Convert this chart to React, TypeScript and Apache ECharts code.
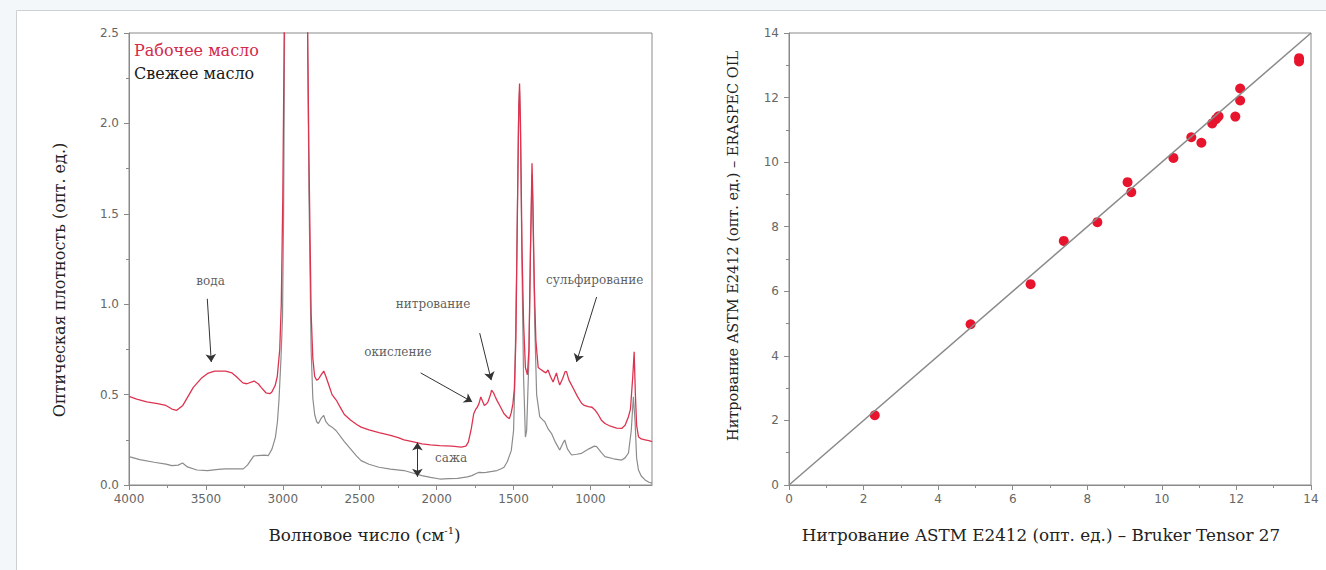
import React, { useEffect, useRef } from "react";
import * as echarts from "echarts";

// ---- Spectra (wavenumber cm-1, absorbance) ----
const workingW = [4000, 3950, 3884, 3814, 3760, 3721, 3690, 3650, 3582, 3530, 3489, 3443, 3373, 3330, 3303, 3260, 3234, 3187, 3160, 3141, 3110, 3085, 3071, 3050, 3036, 3020, 3010, 3000, 2990, 2960, 2920, 2880, 2850, 2840, 2830, 2816, 2805, 2793, 2780, 2769, 2750, 2734, 2720, 2700, 2680, 2653, 2620, 2600, 2560, 2520, 2491, 2440, 2375, 2300, 2250, 2212, 2142, 2096, 2040, 1980, 1900, 1840, 1810, 1794, 1775, 1759, 1745, 1736, 1725, 1713, 1700, 1690, 1675, 1666, 1650, 1643, 1630, 1620, 1608, 1590, 1562, 1540, 1527, 1515, 1504, 1495, 1485, 1475, 1466, 1461, 1455, 1445, 1435, 1423, 1410, 1400, 1390, 1380, 1375, 1365, 1355, 1340, 1325, 1308, 1290, 1276, 1260, 1243, 1230, 1221, 1210, 1200, 1180, 1165, 1156, 1140, 1112, 1085, 1058, 1040, 1014, 990, 971, 950, 930, 906, 870, 830, 797, 775, 753, 740, 725, 716, 708, 700, 688, 670, 645, 620, 600];
const workingA = [0.49, 0.475, 0.46, 0.45, 0.44, 0.42, 0.413, 0.44, 0.54, 0.59, 0.617, 0.63, 0.63, 0.62, 0.6, 0.565, 0.56, 0.575, 0.56, 0.54, 0.51, 0.505, 0.515, 0.55, 0.6, 0.75, 1.0, 1.6, 2.6, 3.0, 3.2, 3.0, 2.9, 2.6, 1.8, 0.95, 0.7, 0.6, 0.58, 0.585, 0.61, 0.63, 0.6, 0.55, 0.5, 0.47, 0.42, 0.39, 0.36, 0.335, 0.32, 0.305, 0.29, 0.275, 0.262, 0.25, 0.237, 0.228, 0.222, 0.218, 0.215, 0.21, 0.215, 0.237, 0.31, 0.394, 0.42, 0.43, 0.45, 0.487, 0.46, 0.44, 0.45, 0.46, 0.5, 0.524, 0.51, 0.49, 0.468, 0.44, 0.394, 0.375, 0.367, 0.4, 0.45, 0.53, 0.8, 1.5, 2.1, 2.22, 2.0, 1.3, 0.9, 0.65, 0.61, 0.75, 1.3, 1.78, 1.6, 1.1, 0.8, 0.65, 0.64, 0.63, 0.62, 0.636, 0.6, 0.57, 0.6, 0.62, 0.58, 0.553, 0.59, 0.627, 0.627, 0.58, 0.535, 0.49, 0.452, 0.44, 0.433, 0.43, 0.415, 0.39, 0.36, 0.34, 0.325, 0.315, 0.313, 0.33, 0.378, 0.42, 0.6, 0.737, 0.5, 0.33, 0.267, 0.255, 0.25, 0.245, 0.24];

const freshW = [4000, 3930, 3837, 3760, 3721, 3680, 3652, 3620, 3559, 3489, 3420, 3373, 3300, 3257, 3230, 3210, 3190, 3164, 3120, 3094, 3070, 3048, 3035, 3025, 3012, 3002, 2995, 2988, 2960, 2920, 2880, 2850, 2840, 2830, 2816, 2805, 2793, 2780, 2769, 2750, 2734, 2720, 2700, 2680, 2653, 2600, 2560, 2520, 2491, 2440, 2375, 2300, 2212, 2150, 2096, 2040, 1980, 1920, 1864, 1800, 1771, 1740, 1724, 1700, 1678, 1640, 1608, 1580, 1562, 1540, 1515, 1500, 1492, 1480, 1468, 1461, 1455, 1445, 1435, 1423, 1415, 1400, 1390, 1380, 1375, 1362, 1350, 1330, 1310, 1297, 1275, 1254, 1230, 1200, 1180, 1167, 1150, 1123, 1090, 1058, 1010, 975, 960, 930, 906, 850, 797, 775, 753, 735, 721, 710, 700, 688, 670, 645, 620, 600];
const freshA = [0.157, 0.14, 0.126, 0.115, 0.107, 0.11, 0.122, 0.1, 0.083, 0.08, 0.086, 0.089, 0.09, 0.089, 0.11, 0.135, 0.16, 0.163, 0.165, 0.163, 0.2, 0.265, 0.35, 0.47, 0.7, 0.93, 1.5, 2.6, 3.0, 3.2, 3.0, 2.9, 2.6, 1.6, 0.75, 0.48, 0.39, 0.35, 0.34, 0.37, 0.385, 0.35, 0.33, 0.32, 0.3, 0.24, 0.2, 0.16, 0.135, 0.115, 0.098, 0.088, 0.08, 0.065, 0.052, 0.042, 0.033, 0.035, 0.037, 0.045, 0.052, 0.065, 0.07, 0.068, 0.07, 0.075, 0.08, 0.09, 0.098, 0.13, 0.19, 0.3, 0.56, 1.2, 2.0, 2.18, 1.95, 1.2, 0.6, 0.265, 0.3, 0.7, 1.3, 1.72, 1.55, 0.875, 0.5, 0.378, 0.36, 0.35, 0.31, 0.286, 0.24, 0.194, 0.23, 0.249, 0.2, 0.166, 0.17, 0.175, 0.2, 0.215, 0.212, 0.18, 0.157, 0.145, 0.138, 0.15, 0.177, 0.3, 0.488, 0.35, 0.15, 0.083, 0.05, 0.028, 0.015, 0.01];

const seriesNames = ["Рабочее масло", "Свежее масло"];

// ---- Annotations (wavenumber, absorbance, text) ----
const annotTexts = ["вода", "нитрование", "окисление", "сульфирование", "сажа"];
const annotW = [3470, 2023, 2252, 973, 1906];
const annotA = [1.13, 1.0, 0.735, 1.134, 0.15];
// arrows: start (w,a) -> end (w,a)
const arrowFromW = [3491, 1720, 2104, 960, 2125];
const arrowFromA = [1.03, 0.84, 0.62, 1.04, 0.045];
const arrowToW = [3465, 1645, 1769, 1091, 2125];
const arrowToA = [0.68, 0.58, 0.46, 0.68, 0.235];
const doubleArrow = [false, false, false, false, true];

// ---- Wavenumber tick labels ----
const waveMajor = [1000, 1500, 2000, 2500, 3000, 3500, 4000];
const waveMinor = [750, 1250, 1750, 2250, 2750, 3250, 3750];

// ---- Nitration correlation ----
const brukerX = [2.3, 4.87, 6.48, 7.37, 8.27, 9.08, 9.18, 10.31, 10.79, 11.06, 11.35, 11.45, 11.52, 11.97, 12.1, 12.1, 13.68, 13.68];
const eraspecY = [2.16, 4.98, 6.22, 7.56, 8.14, 9.38, 9.07, 10.13, 10.77, 10.6, 11.2, 11.33, 11.42, 11.41, 12.28, 11.91, 13.22, 13.12];
const identityLine = [0, 14];

const AXIS = "#8a8a8a";
const LABEL = "#666";
const SERIF = "'DejaVu Serif', serif";
const SANS = "'DejaVu Sans', sans-serif";
const RED_LINE = "#dc3450";
const GREY_LINE = "#8c8c8c";
const DOT = "#e8132d";

export default function App() {
  const ref = useRef<HTMLDivElement>(null);

  useEffect(() => {
    if (!ref.current) return;
    const chart = echarts.init(ref.current, undefined, { renderer: "svg" });

    const zip = (a: number[], b: number[]) => a.map((v, i) => [v, b[i]]);

    const tickStyle = { lineStyle: { color: AXIS, width: 1 } };
    const labelStyle = { color: LABEL, fontFamily: SANS, fontSize: 12 };
    const nameStyle = { color: "#222", fontFamily: SERIF, fontSize: 16 };

    const option: any = {
      animation: false,
      backgroundColor: "#f3f7f9",
      graphic: [
        {
          type: "rect",
          z: -100,
          silent: true,
          shape: { x: 16.5, y: 10.5, width: 1330, height: 580 },
          style: { fill: "#ffffff", stroke: "#cdd1d4", lineWidth: 1 },
        },
      ],
      legend: {
        data: [
          { name: seriesNames[0], textStyle: { color: "#d4294b" } },
          { name: seriesNames[1], textStyle: { color: "#1a1a1a" } },
        ],
        orient: "vertical",
        left: 129,
        top: 41,
        padding: 0,
        icon: "none",
        itemWidth: 0,
        itemHeight: 18,
        itemGap: 6,
        selectedMode: false,
        textStyle: { fontFamily: SERIF, fontSize: 16 },
      },
      grid: [
        { left: 129, top: 33, width: 523, height: 452, show: true, borderColor: AXIS, borderWidth: 1, backgroundColor: "transparent", containLabel: false, outerBoundsMode: "none" },
        { left: 789, top: 33, width: 522, height: 452, show: true, borderColor: AXIS, borderWidth: 1, backgroundColor: "transparent", containLabel: false, outerBoundsMode: "none" },
      ],
      xAxis: [
        {
          type: "value",
          gridIndex: 0,
          min: 600,
          max: 4000,
          inverse: true,
          axisLine: { show: true, lineStyle: { color: AXIS } },
          axisTick: { show: true, length: 5, customValues: waveMajor, ...tickStyle },
          axisLabel: { customValues: waveMajor, margin: 8, formatter: (v: number) => String(v), ...labelStyle },
          splitLine: { show: false },
          name: "Волновое число (см{s|-1})",
          nameLocation: "middle",
          nameGap: 40,
          nameTextStyle: {
            ...nameStyle,
            fontSize: 16.8,
            padding: [0, 52, 0, 0],
            rich: { s: { fontFamily: SERIF, fontSize: 10, color: "#222", padding: [0, 0, 9, 0] } },
          },
        },
        {
          type: "value",
          gridIndex: 0,
          min: 600,
          max: 4000,
          inverse: true,
          position: "bottom",
          axisLine: { show: false },
          axisTick: { show: true, length: 3, customValues: waveMinor, ...tickStyle },
          axisLabel: { show: false },
          splitLine: { show: false },
        },
        {
          type: "value",
          gridIndex: 1,
          min: 0,
          max: 14,
          interval: 2,
          axisLine: { show: true, lineStyle: { color: AXIS } },
          axisTick: { show: true, length: 5, ...tickStyle },
          minorTick: { show: true, splitNumber: 2, length: 3, ...tickStyle },
          axisLabel: { margin: 8, ...labelStyle },
          splitLine: { show: false },
          minorSplitLine: { show: false },
          name: "Нитрование ASTM E2412 (опт. ед.) – Bruker Tensor 27",
          nameLocation: "middle",
          nameGap: 41,
          nameTextStyle: { ...nameStyle, fontSize: 16.8, padding: [0, 18, 0, 0] },
        },
      ],
      yAxis: [
        {
          type: "value",
          gridIndex: 0,
          min: 0,
          max: 2.5,
          interval: 0.5,
          axisLine: { show: true, lineStyle: { color: AXIS } },
          axisTick: { show: true, length: 5, ...tickStyle },
          minorTick: { show: true, splitNumber: 2, length: 3, ...tickStyle },
          axisLabel: { margin: 10, formatter: (v: number) => v.toFixed(1), ...labelStyle },
          splitLine: { show: false },
          minorSplitLine: { show: false },
          name: "Оптическая плотность (опт. ед.)",
          nameLocation: "middle",
          nameGap: 62,
          nameTextStyle: { ...nameStyle, padding: [0, 42, 0, 0] },
        },
        {
          type: "value",
          gridIndex: 1,
          min: 0,
          max: 14,
          interval: 2,
          axisLine: { show: true, lineStyle: { color: AXIS } },
          axisTick: { show: true, length: 5, ...tickStyle },
          minorTick: { show: true, splitNumber: 2, length: 3, ...tickStyle },
          axisLabel: { margin: 10, ...labelStyle },
          splitLine: { show: false },
          minorSplitLine: { show: false },
          name: "Нитрование ASTM E2412 (опт. ед.) – ERASPEC OIL",
          nameLocation: "middle",
          nameGap: 49,
          nameTextStyle: { ...nameStyle, fontSize: 14.5, padding: [0, 0, 0, 26] },
        },
      ],
      series: [
        {
          name: seriesNames[1],
          type: "line",
          xAxisIndex: 0,
          yAxisIndex: 0,
          data: zip(freshW, freshA),
          showSymbol: false,
          symbol: "none",
          clip: true,
          color: GREY_LINE,
          lineStyle: { color: GREY_LINE, width: 1.2 },
          silent: true,
        },
        {
          name: seriesNames[0],
          type: "line",
          xAxisIndex: 0,
          yAxisIndex: 0,
          data: zip(workingW, workingA),
          showSymbol: false,
          symbol: "none",
          clip: true,
          color: RED_LINE,
          lineStyle: { color: RED_LINE, width: 1.3 },
          silent: true,
        },
        {
          name: "arrows",
          type: "line",
          xAxisIndex: 0,
          yAxisIndex: 0,
          data: [],
          silent: true,
          markLine: {
            silent: true,
            symbol: ["none", "arrow"],
            symbolSize: 8,
            label: { show: false },
            lineStyle: { color: "#333", width: 1, type: "solid" },
            emphasis: { disabled: true },
            data: arrowFromW.map((w, i) => [
              { coord: [w, arrowFromA[i]], symbol: doubleArrow[i] ? "arrow" : "none" },
              { coord: [arrowToW[i], arrowToA[i]], symbol: "arrow" },
            ]),
          },
        },
        {
          name: "annotations",
          type: "scatter",
          xAxisIndex: 0,
          yAxisIndex: 0,
          symbolSize: 0,
          silent: true,
          data: annotW.map((w, i) => [w, annotA[i], annotTexts[i]]),
          label: {
            show: true,
            position: [0, 0],
            align: "center",
            verticalAlign: "middle",
            formatter: (p: any) => p.data[2],
            fontFamily: SERIF,
            fontSize: 12,
            color: "#333",
          },
        },
        {
          name: "identity",
          type: "line",
          xAxisIndex: 2,
          yAxisIndex: 1,
          data: zip(identityLine, identityLine),
          showSymbol: false,
          symbol: "none",
          lineStyle: { color: "#8a8a8a", width: 1.5 },
          silent: true,
        },
        {
          name: "nitration",
          type: "scatter",
          xAxisIndex: 2,
          yAxisIndex: 1,
          data: zip(brukerX, eraspecY),
          symbolSize: 10,
          itemStyle: { color: DOT, opacity: 1 },
          silent: true,
        },
      ],
    };

    chart.setOption(option);
    return () => chart.dispose();
  }, []);

  return (
    <div
      ref={ref}
      style={{ position: "fixed", left: 0, top: 0, width: 1326, height: 570 }}
    />
  );
}
